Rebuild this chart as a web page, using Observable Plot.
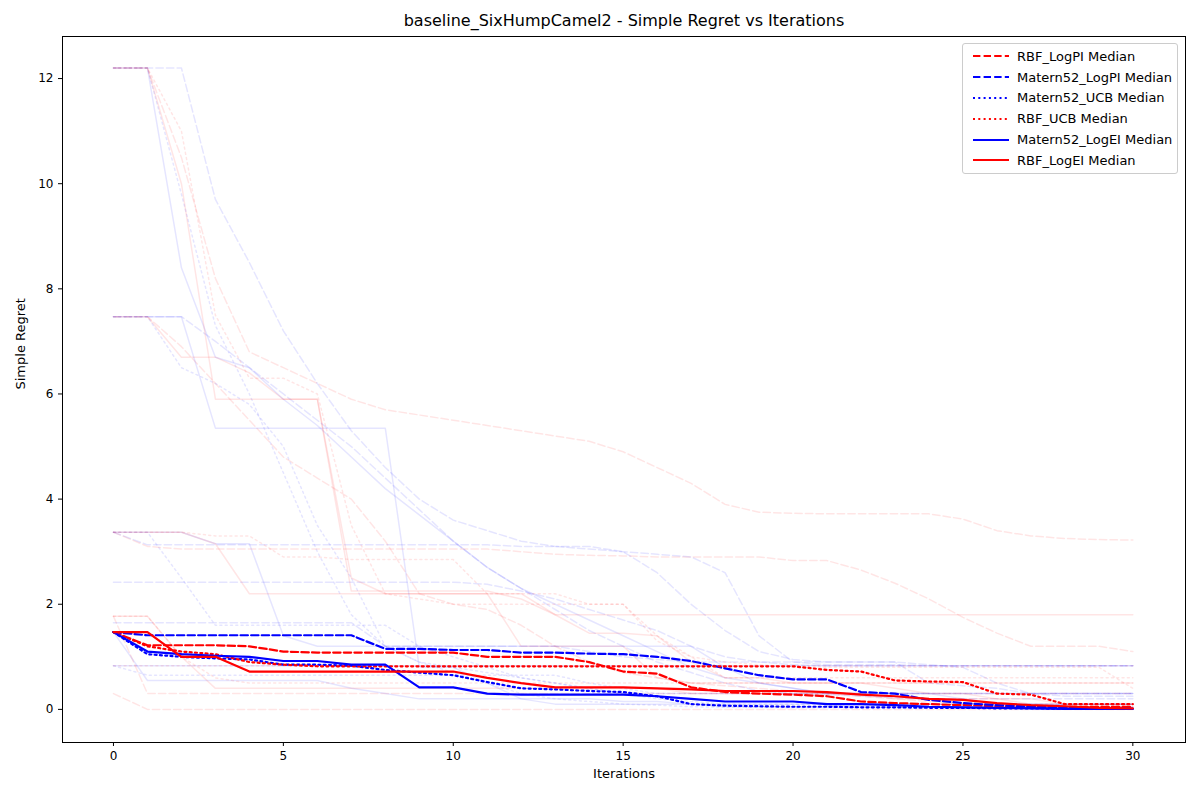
<!DOCTYPE html>
<html><head><meta charset="utf-8">
<script src="https://cdn.jsdelivr.net/npm/d3@7"></script>
<script src="https://cdn.jsdelivr.net/npm/@observablehq/plot@0.6"></script>
<style>
body{margin:0;background:#fff;font-family:"DejaVu Sans",sans-serif}
#wrap{position:relative;width:1200px;height:800px}
#legend{position:absolute;left:962px;top:43px;width:214px;background:#fff;border:1px solid #ccc;border-radius:3px;font-size:13px;padding:2px 0}
#legend div{display:flex;align-items:center;height:20.8px}
#legend svg{margin:0 6px 0 8px}
</style></head><body>
<div id="wrap"><div id="chart"></div><div id="legend"></div></div>
<script>
const iterations = d3.range(0, 31)

// median curves
const maternLogPI = [1.47,1.41,1.41,1.41,1.41,1.41,1.41,1.41,1.15,1.15,1.13,1.13,1.08,1.08,1.06,1.05,1.0,0.92,0.78,0.65,0.57,0.57,0.33,0.3,0.18,0.12,0.08,0.05,0.03,0.02,0.02]
const rbfLogPI = [1.47,1.22,1.22,1.22,1.2,1.1,1.08,1.08,1.08,1.08,1.08,1.0,1.0,1.0,0.9,0.72,0.68,0.42,0.33,0.3,0.28,0.25,0.15,0.12,0.1,0.08,0.06,0.05,0.05,0.05,0.05]
const maternUCB = [1.47,1.05,1.0,0.97,0.95,0.85,0.85,0.83,0.75,0.7,0.65,0.52,0.4,0.38,0.35,0.33,0.25,0.1,0.07,0.06,0.05,0.05,0.04,0.04,0.03,0.03,0.02,0.02,0.01,0.01,0.01]
const rbfUCB = [1.47,1.2,1.1,1.05,0.9,0.85,0.82,0.82,0.82,0.82,0.82,0.82,0.82,0.82,0.82,0.82,0.82,0.82,0.82,0.82,0.82,0.75,0.72,0.55,0.53,0.52,0.3,0.28,0.1,0.1,0.1]
const maternLogEI = [1.47,1.1,1.05,1.02,1.0,0.92,0.92,0.85,0.85,0.42,0.42,0.3,0.28,0.28,0.28,0.28,0.25,0.2,0.15,0.15,0.15,0.1,0.1,0.08,0.05,0.04,0.03,0.02,0.01,0.01,0.01]
const rbfLogEI = [1.47,1.47,1.0,1.0,0.72,0.72,0.72,0.72,0.72,0.72,0.72,0.6,0.5,0.42,0.42,0.42,0.4,0.38,0.35,0.35,0.35,0.33,0.28,0.25,0.2,0.18,0.12,0.08,0.06,0.03,0.02]

// individual runs (faint)
const runsMaternLogPI = [
  [12.2,12.2,12.2,9.7,8.5,7.2,6.2,5.3,4.6,4.0,3.6,3.4,3.2,3.1,3.1,3.0,2.6,2.0,1.5,1.1,0.95,0.9,0.9,0.9,0.85,0.8,0.5,0.3,0.3,0.3,0.3],
  [3.37,3.13,3.13,3.13,3.13,3.13,3.13,3.13,3.13,3.13,3.13,3.13,3.1,3.1,3.05,3.0,2.95,2.9,2.6,1.4,0.9,0.85,0.85,0.85,0.83,0.83,0.83,0.83,0.83,0.83,0.83],
  [2.42,2.42,2.42,2.42,2.42,2.42,2.42,2.42,2.42,2.42,2.42,2.38,2.25,2.1,1.9,1.7,1.5,1.2,1.0,0.9,0.85,0.83,0.83,0.83,0.83,0.83,0.83,0.83,0.83,0.83,0.83],
  [7.47,7.47,7.47,7.0,6.5,6.0,5.5,5.0,4.4,3.8,3.2,2.7,2.3,1.9,1.5,1.2,0.9,0.7,0.5,0.35,0.3,0.28,0.25,0.22,0.2,0.2,0.2,0.2,0.2,0.2,0.2],
  [1.65,1.65,1.65,1.65,1.65,1.65,1.65,1.65,1.2,1.2,1.2,1.2,1.2,1.2,1.1,1.0,0.95,0.9,0.9,0.9,0.9,0.9,0.9,0.9,0.5,0.45,0.4,0.3,0.25,0.25,0.25]
]
const runsRbfLogPI = [
  [12.2,12.2,10.5,8.2,6.8,6.5,6.2,5.9,5.7,5.6,5.5,5.4,5.3,5.2,5.1,4.9,4.6,4.3,3.9,3.75,3.73,3.72,3.72,3.72,3.72,3.62,3.4,3.3,3.25,3.23,3.22],
  [3.37,3.1,3.05,3.05,3.05,3.05,3.05,3.05,3.05,3.05,3.05,3.05,3.0,2.95,2.93,2.92,2.9,2.9,2.9,2.9,2.83,2.83,2.65,2.4,2.1,1.75,1.45,1.2,1.2,1.2,1.1],
  [1.77,0.3,0.3,0.3,0.3,0.3,0.3,0.3,0.3,0.3,0.3,0.3,0.3,0.3,0.3,0.3,0.3,0.3,0.3,0.3,0.3,0.3,0.3,0.3,0.3,0.3,0.3,0.3,0.3,0.3,0.3],
  [0.3,0.0,0.0,0.0,0.0,0.0,0.0,0.0,0.0,0.0,0.0,0.0,0.0,0.0,0.0,0.0,0.0,0.0,0.0,0.0,0.0,0.0,0.0,0.0,0.0,0.0,0.0,0.0,0.0,0.0,0.0],
  [7.47,7.47,6.9,6.2,5.5,4.8,4.4,4.0,3.2,2.2,2.0,1.9,1.6,1.2,0.9,0.7,0.6,0.5,0.45,0.4,0.35,0.3,0.25,0.2,0.15,0.12,0.1,0.08,0.05,0.05,0.05]
]
const runsMaternUCB = [
  [12.2,12.2,9.8,7.3,6.0,4.5,3.0,1.8,1.2,0.9,0.7,0.5,0.3,0.2,0.15,0.1,0.08,0.05,0.04,0.04,0.03,0.03,0.03,0.03,0.03,0.03,0.03,0.03,0.03,0.03,0.03],
  [3.37,3.37,2.5,1.6,1.6,1.6,1.6,1.6,1.6,1.2,1.0,0.8,0.6,0.5,0.4,0.3,0.3,0.3,0.3,0.3,0.3,0.3,0.3,0.3,0.3,0.3,0.3,0.3,0.3,0.3,0.3],
  [0.83,0.65,0.65,0.65,0.65,0.65,0.65,0.65,0.65,0.65,0.65,0.65,0.65,0.65,0.5,0.4,0.3,0.3,0.3,0.3,0.3,0.3,0.3,0.3,0.3,0.3,0.3,0.3,0.3,0.3,0.3],
  [7.47,7.47,6.5,6.2,5.8,5.0,3.5,2.5,1.2,0.9,0.8,0.7,0.6,0.5,0.4,0.3,0.2,0.15,0.1,0.1,0.1,0.1,0.1,0.1,0.1,0.1,0.1,0.1,0.1,0.1,0.1]
]
const runsRbfUCB = [
  [12.2,12.2,11.0,7.5,6.3,6.3,6.0,3.5,2.2,2.1,2.0,2.0,2.0,2.0,2.0,2.0,1.4,1.0,0.6,0.6,0.6,0.6,0.6,0.6,0.6,0.6,0.6,0.6,0.6,0.6,0.6],
  [3.37,3.37,3.37,3.3,3.3,2.9,2.9,2.85,2.85,2.85,2.85,2.2,2.2,2.2,2.0,2.0,1.3,1.0,0.9,0.85,0.8,0.8,0.8,0.8,0.8,0.8,0.8,0.8,0.8,0.8,0.4],
  [1.77,1.77,1.0,0.6,0.5,0.5,0.5,0.5,0.5,0.5,0.5,0.5,0.5,0.5,0.5,0.5,0.5,0.5,0.5,0.5,0.5,0.5,0.5,0.5,0.5,0.5,0.5,0.5,0.5,0.5,0.5],
  [0.83,0.83,0.83,0.83,0.83,0.83,0.83,0.83,0.83,0.83,0.83,0.83,0.83,0.83,0.83,0.83,0.83,0.83,0.83,0.83,0.83,0.83,0.83,0.83,0.83,0.83,0.83,0.83,0.83,0.83,0.83]
]
const runsMaternLogEI = [
  [12.2,12.2,8.4,6.7,6.5,5.9,5.4,4.8,4.2,3.7,3.2,2.7,2.3,2.0,1.7,1.4,1.1,0.8,0.6,0.5,0.4,0.3,0.3,0.3,0.3,0.2,0.1,0.1,0.1,0.1,0.1],
  [3.37,3.37,3.37,3.15,3.15,1.4,1.2,1.2,1.2,1.2,1.2,1.2,1.2,1.2,1.2,1.2,1.2,1.2,0.8,0.5,0.4,0.3,0.3,0.3,0.3,0.3,0.3,0.3,0.3,0.3,0.3],
  [7.47,7.47,7.47,5.35,5.35,5.35,5.35,5.35,5.35,0.8,0.8,0.5,0.2,0.1,0.1,0.1,0.1,0.1,0.1,0.1,0.1,0.1,0.1,0.1,0.1,0.1,0.1,0.1,0.1,0.1,0.1],
  [1.47,0.55,0.55,0.55,0.55,0.55,0.55,0.4,0.3,0.2,0.2,0.2,0.2,0.2,0.2,0.15,0.15,0.1,0.05,0.05,0.05,0.05,0.05,0.05,0.05,0.05,0.05,0.05,0.05,0.05,0.05],
  [0.83,0.83,0.83,0.83,0.83,0.83,0.83,0.83,0.83,0.83,0.83,0.83,0.83,0.83,0.83,0.83,0.83,0.83,0.83,0.83,0.83,0.83,0.83,0.83,0.83,0.83,0.83,0.83,0.83,0.83,0.83]
]
const runsRbfLogEI = [
  [12.2,12.2,10.0,5.9,5.9,5.9,5.9,2.25,2.25,2.25,2.25,2.25,2.1,1.8,1.45,1.45,1.4,0.9,0.6,0.6,0.5,0.5,0.5,0.4,0.3,0.3,0.2,0.2,0.1,0.1,0.1],
  [7.47,7.47,6.7,6.7,6.4,5.9,5.9,2.5,2.2,2.2,2.2,2.2,2.2,1.8,1.8,1.8,1.8,1.8,1.8,1.8,1.8,1.8,1.8,1.8,1.8,1.8,1.8,1.8,1.8,1.8,1.8],
  [1.77,1.77,1.0,0.4,0.4,0.4,0.4,0.4,0.4,0.4,0.4,0.4,0.4,0.4,0.4,0.4,0.4,0.3,0.3,0.3,0.3,0.3,0.3,0.2,0.2,0.2,0.2,0.1,0.1,0.1,0.1],
  [3.37,3.37,3.37,3.15,2.2,2.2,2.2,2.2,2.2,2.2,2.2,2.2,1.2,1.2,1.2,1.2,0.6,0.5,0.5,0.5,0.5,0.5,0.5,0.5,0.5,0.5,0.5,0.5,0.5,0.5,0.5]
]

const seriesDefs = [
  {name: "RBF_LogPI", color: "red", dash: "7.4,3.2", median: rbfLogPI, runs: runsRbfLogPI},
  {name: "Matern52_LogPI", color: "blue", dash: "7.4,3.2", median: maternLogPI, runs: runsMaternLogPI},
  {name: "Matern52_UCB", color: "blue", dash: "2,3.3", median: maternUCB, runs: runsMaternUCB},
  {name: "RBF_UCB", color: "red", dash: "2,3.3", median: rbfUCB, runs: runsRbfUCB},
  {name: "Matern52_LogEI", color: "blue", dash: null, median: maternLogEI, runs: runsMaternLogEI},
  {name: "RBF_LogEI", color: "red", dash: null, median: rbfLogEI, runs: runsRbfLogEI}
]

const toRows = arr => arr.map((v, i) => ({x: iterations[i], y: v}))

const faintMarks = seriesDefs.flatMap(s => s.runs.map(r =>
  Plot.line(toRows(r), {x: "x", y: "y", stroke: s.color, strokeOpacity: 0.1, strokeWidth: 1.5, strokeDasharray: s.dash})))
const medianMarks = seriesDefs.map(s =>
  Plot.line(toRows(s.median), {x: "x", y: "y", stroke: s.color, strokeWidth: 2.2, strokeDasharray: s.dash}))

const chart = Plot.plot({
  width: 1200, height: 800,
  marginLeft: 62, marginRight: 15, marginTop: 36, marginBottom: 58,
  style: {fontFamily: "DejaVu Sans, sans-serif", fontSize: "12px", color: "#000"},
  x: {domain: [-1.5, 31.55], ticks: [0,5,10,15,20,25,30], tickSize: 4, label: null},
  y: {domain: [-0.63, 12.8], ticks: [0,2,4,6,8,10,12], tickSize: 4, label: null},
  marks: [
    ...faintMarks,
    ...medianMarks,
    Plot.frame({stroke: "#000"}),
    Plot.text(["baseline_SixHumpCamel2 - Simple Regret vs Iterations"], {frameAnchor: "top", dy: -22, fontSize: 16}),
    Plot.text(["Iterations"], {frameAnchor: "bottom", dy: 35, fontSize: 13}),
    Plot.text(["Simple Regret"], {frameAnchor: "left", dx: -42, rotate: -90, fontSize: 13})
  ]
})
d3.select("#chart").append(() => chart)

const leg = d3.select("#legend")
seriesDefs.forEach(s => {
  const row = leg.append("div")
  const sv = row.append("svg").attr("width", 40).attr("height", 10)
  sv.append("line").attr("x1", 2).attr("x2", 38).attr("y1", 5).attr("y2", 5)
    .attr("stroke", s.color).attr("stroke-width", 2.2).attr("stroke-dasharray", s.dash)
  row.append("span").text(s.name + " Median")
})
</script>
</body></html>
